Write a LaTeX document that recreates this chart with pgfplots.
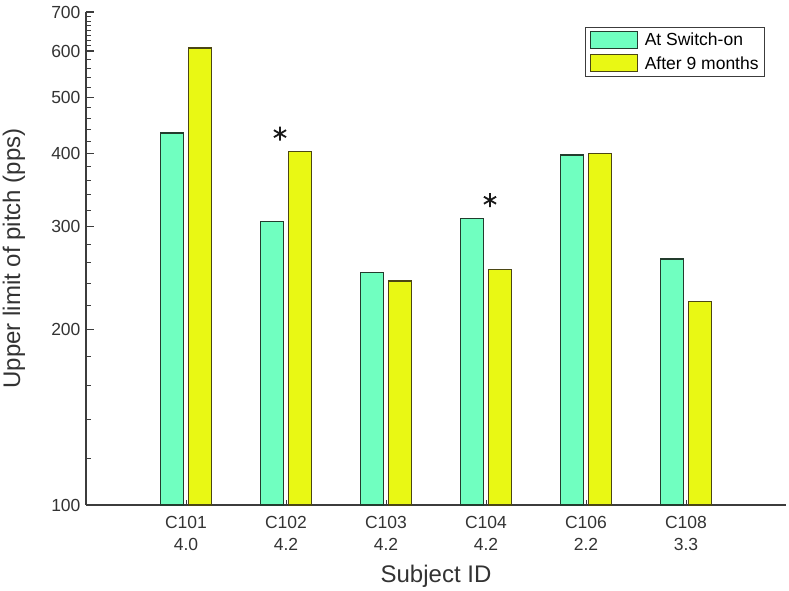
\documentclass[border=0pt]{standalone}
\usepackage{fontspec}
\setmainfont{Liberation Sans}
\usepackage{pgfplots}
\pgfplotsset{compat=1.18}
\definecolor{teal1}{RGB}{112,255,192}
\definecolor{yel1}{RGB}{233,248,20}
\definecolor{axgray}{RGB}{60,60,60}
\definecolor{tealedge}{RGB}{35,60,45}
\definecolor{yeledge}{RGB}{75,70,20}
\pgfplotsset{myleg/.style={legend image code/.code={\draw[##1, line width=1pt] (0pt,-8.5pt) rectangle (47pt,8.5pt);}}}
\begin{document}
\begin{tikzpicture}
\useasboundingbox (-86pt,-85pt) rectangle (703pt,505pt);
\begin{axis}[
  at={(0,0)}, anchor=south west,
  scale only axis, width=700pt, height=493pt,
  ymode=log, log origin=infty,
  xmin=0, xmax=7, ymin=100, ymax=700,
  axis lines=left,
  axis line style={-, axgray, line width=1.2pt},
  x axis line style={-}, y axis line style={-},
  tick align=inside,
  major tick length=8pt,
  clip=false,
  xtick={1,2,3,4,5,6},
  xticklabels={{C101\\4.0},{C102\\4.2},{C103\\4.2},{C104\\4.2},{C106\\2.2},{C108\\3.3}},
  xticklabel style={align=center, yshift=-8pt},
  xtick style={axgray, line width=1pt, /pgfplots/major tick length=5pt},
  ytick={100,200,300,400,500,600,700},
  yticklabels={100,200,300,400,500,600,700},
  ytick style={axgray, line width=1.2pt},
  yticklabel style={xshift=-2pt},
  tick label style={font=\fontsize{17.5}{22}\selectfont, text=black!80},
  /pgf/number format/assume math mode=true,
  xlabel={Subject ID},
  xlabel style={font=\fontsize{24}{28}\selectfont, text=black!80, at={(axis description cs:0.5,0)}, anchor=base, yshift=-78pt},
  ylabel={Upper limit of pitch (pps)},
  ylabel style={font=\fontsize{24}{28}\selectfont, text=black!80, at={(axis description cs:-0.103,0.5)}, anchor=center},
  legend style={at={(rel axis cs:0.97,0.97)}, anchor=north east, draw=axgray, line width=0.8pt,
    font=\fontsize{17.5}{21}\selectfont, inner xsep=4pt, inner ysep=4pt, row sep=5pt,
    /tikz/every odd column/.append style={column sep=5pt}},
  legend cell align=left,
]
\addplot[ybar, bar width=0.23, bar shift=-0.14, fill=teal1, draw=tealedge, line width=1.2pt, myleg]
  coordinates {(1,434) (2,306) (3,250) (4,310) (5,398) (6,264)};
\addlegendentry{At Switch-on}
\addplot[ybar, bar width=0.23, bar shift=0.14, fill=yel1, draw=yeledge, line width=1.2pt, myleg]
  coordinates {(1,607) (2,404) (3,242) (4,253) (5,401) (6,223)};
\addlegendentry{After 9 months}
\addplot[only marks, mark=asterisk, mark size=7pt, line width=1.8pt, black!90, forget plot]
  coordinates {(1.94,433) (4.04,333)};
\pgfplotsinvokeforeach{120,140,160,180,220,240,260,280,320,340,360,380,420,440,460,480,520,540,560,580,612.5,625,637.5,650,662.5,675,687.5}{
  \draw[axgray, line width=1.1pt] (axis cs:0,#1) -- ++(5pt,0pt);
}
\end{axis}
\end{tikzpicture}
\end{document}
